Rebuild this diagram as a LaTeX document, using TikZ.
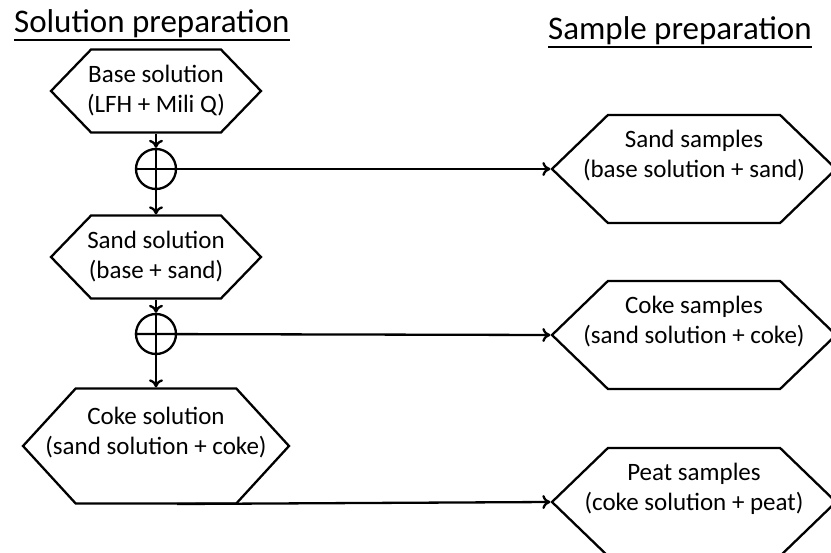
\documentclass[tikz,border=0pt]{standalone}
\usepackage{fontspec}
\setmainfont{Carlito}
\usetikzlibrary{shapes.symbols, arrows.meta}
\newcommand\headline[1]{\setbox0\hbox{#1}\rlap{\rule[-8pt]{\wd0}{1.8pt}}\box0}
\tikzstyle{hexa}=[signal, signal to=east and west, signal pointer angle=92, draw, align=center, inner ysep=0pt, inner xsep=-40pt, font=\fontsize{25}{30}\selectfont]
\tikzstyle{mix}=[circle, draw, minimum size=40pt, inner sep=0pt]
\tikzstyle{heading}=[anchor=base west, inner sep=0pt, font=\fontsize{33}{40}\selectfont]

\begin{document}
\begin{tikzpicture}[x=1pt, y=-1pt, line width=2.3pt, >={To[length=8pt, width=14pt]}]
  \useasboundingbox (0,0) rectangle (831,553);
  \node[heading] (t1) at (13,33) {\headline{Solution preparation}};
  \node[heading] (t2) at (547,40) {\headline{Sample preparation}};
  % solutions
  \node[hexa, minimum width=210pt, minimum height=83pt] (base) at (156,91) {Base solution\\(LFH + Mili Q)};
  \node[mix] (mix1) at (156,169) {};
  \node[hexa, minimum width=210pt, minimum height=83pt] (sandsol) at (156,257) {Sand solution\\(base + sand)};
  \node[mix] (mix2) at (156,334) {};
  \node[hexa, minimum width=266pt, minimum height=115pt, signal pointer angle=95] (cokesol) at (156,446) {Coke solution\\(sand solution + coke)\\\mbox{}};
  \coordinate (cokeout) at (177,504);
  % samples
  \node[hexa, minimum width=284pt, minimum height=108pt, signal pointer angle=88] (sandsmp) at (694,169) {Sand samples\\(base solution + sand)\\\mbox{}};
  \node[hexa, minimum width=284pt, minimum height=108pt, signal pointer angle=88] (cokesmp) at (694,335) {Coke samples\\(sand solution + coke)\\\mbox{}};
  \node[hexa, minimum width=284pt, minimum height=108pt, signal pointer angle=88] (peatsmp) at (694,502) {Peat samples\\(coke solution + peat)\\\mbox{}};
  \draw[->] (base.south) -- (mix1.north);
  \draw[->] (mix1.north) -- (sandsol.north);
  \draw[->] (mix1.west) -- (sandsmp.west);
  \draw[->] (sandsol.south) -- (mix2.north);
  \draw[->] (mix2.north) -- (cokesol.north);
  \draw[->] (mix2.west) -- (cokesmp.west);
  \draw[->] (cokeout) -- (peatsmp.west);
\end{tikzpicture}
\end{document}
